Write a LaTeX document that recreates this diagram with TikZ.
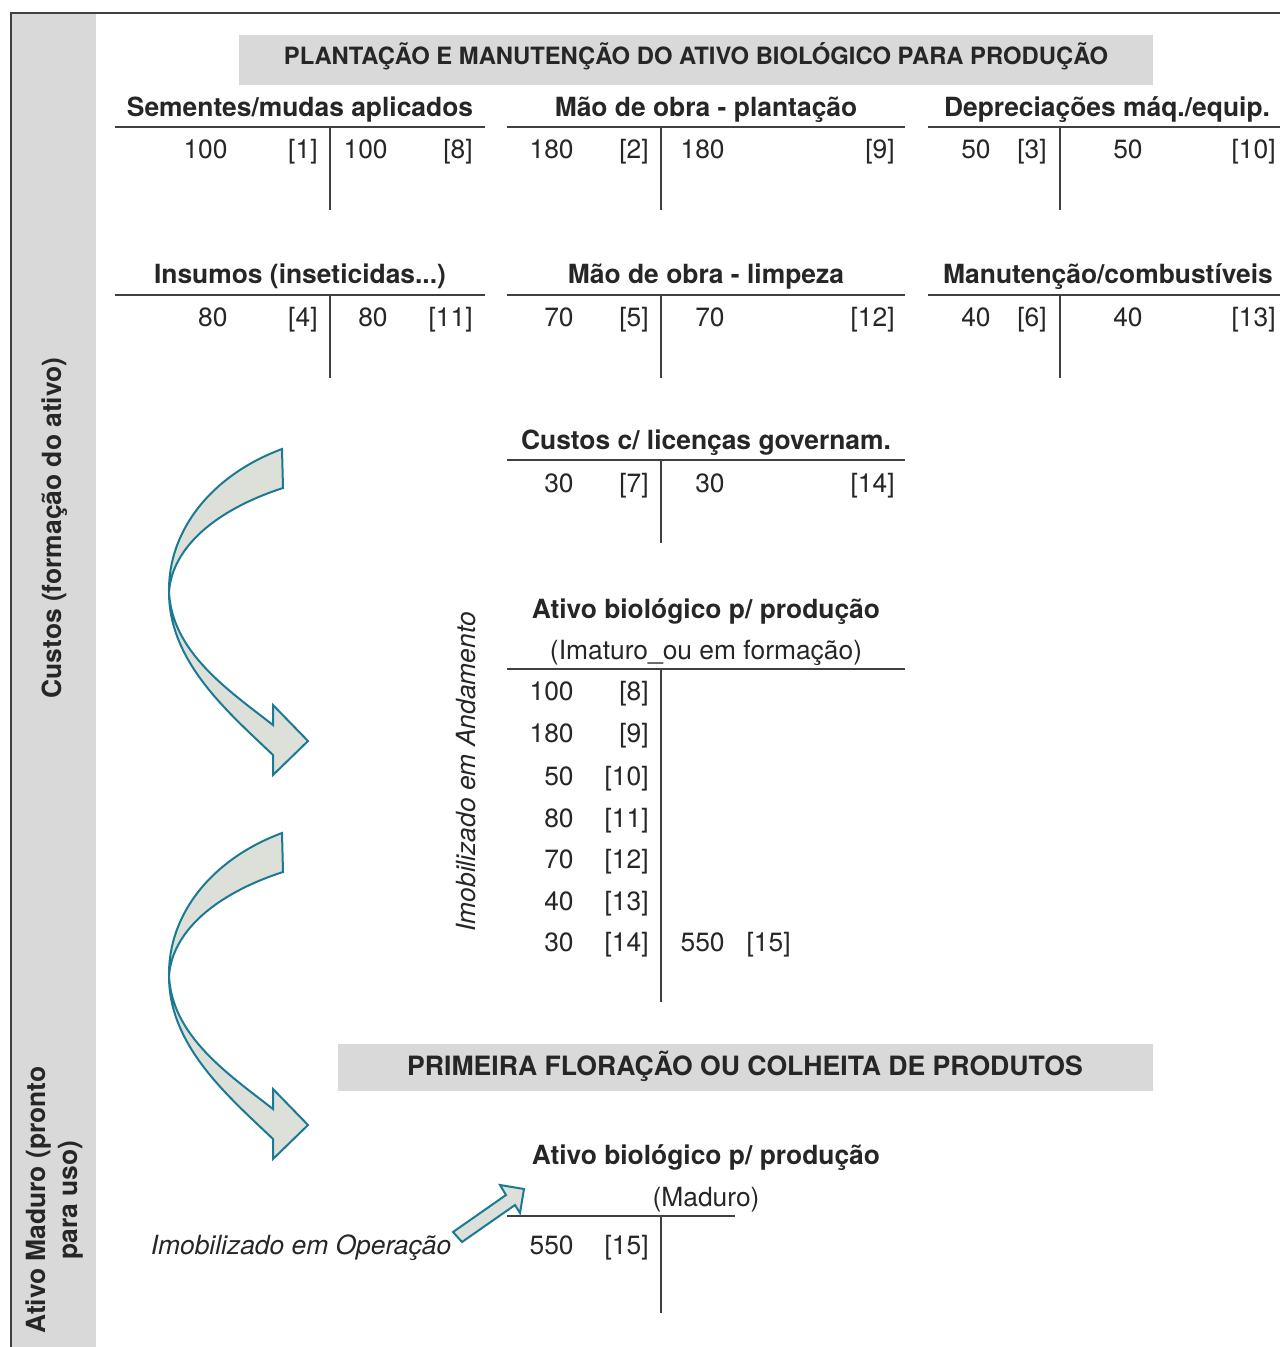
\documentclass[tikz,border=0pt]{standalone}
\usepackage{fontspec}
\setmainfont{TeX Gyre Heros}
\usepackage{xcolor}
\definecolor{ink}{HTML}{262626}
\definecolor{rule}{HTML}{404040}
\definecolor{bargray}{HTML}{D9D9D9}
\definecolor{arrowfill}{HTML}{DDDFD9}
\definecolor{arrowline}{HTML}{1A7A94}

\begin{document}
\begin{tikzpicture}[x=0.5pt,y=-0.5pt,
        hd/.style={anchor=base,inner sep=0pt,text=ink,font=\fontsize{13.2}{16}\selectfont\bfseries},
        sub/.style={anchor=base,inner sep=0pt,text=ink,font=\fontsize{13.2}{16}\selectfont},
        num/.style={anchor=base east,inner sep=0pt,text=ink,font=\fontsize{13.2}{16}\selectfont},
        ttl/.style={anchor=base,inner sep=0pt,text=ink,font=\fontsize{11.9}{14}\selectfont\bfseries},
        tline/.style={draw=rule,line width=0.75pt},
        bigarrow/.style={fill=arrowfill,draw=arrowline,line width=1pt,line join=miter}]
        \useasboundingbox (0,0) rectangle (1280,1347);
        % left band and frame
        \fill[bargray] (11,13) rectangle (96,1347);
        \draw[rule,line width=1pt] (1280,13) -- (11,13) -- (11,1347);
        \node(custos)[hd,anchor=center,rotate=90] at (55,528) {Custos (formação do ativo)};
        \node(maduro)[hd,anchor=center,rotate=90,align=center] at (55,1200) {Ativo Maduro (pronto\\para uso)};

        % title bars
        \fill[bargray] (239,35) rectangle (1153,85);
        \node(plant)[ttl] at (696,64.5) {PLANTAÇÃO E MANUTENÇÃO DO ATIVO BIOLÓGICO PARA PRODUÇÃO};
        \fill[bargray] (338,1044) rectangle (1153,1091);
        \node(florac)[ttl,font=\fontsize{13.3}{16}\selectfont\bfseries] at (745,1075) {PRIMEIRA FLORAÇÃO OU COLHEITA DE PRODUTOS};

        % first row of accounts
        \node(sem)[hd] at (300,117) {Sementes/mudas aplicados};
        \draw[tline] (115,127) -- (485,127) (330,127) -- (330,210);
        \node(sem1)[num] at (228,159) {100};
        \node(semr1)[num] at (318,159) {[1]};
        \node(sem2)[num] at (388,159) {100};
        \node(semr8)[num] at (473,159) {[8]};

        \node(mop)[hd] at (706,117) {Mão de obra - plantação};
        \draw[tline] (507,127) -- (905,127) (661,127) -- (661,210);
        \node(mop1)[num] at (574,159) {180};
        \node(mopr2)[num] at (649,159) {[2]};
        \node(mop2)[num] at (725,159) {180};
        \node(mopr9)[num] at (895,159) {[9]};

        \node(dep)[hd] at (1107,117) {Depreciações máq./equip.};
        \draw[tline] (928,127) -- (1280,127) (1060,127) -- (1060,210);
        \node(dep1)[num] at (991,159) {50};
        \node(depr3)[num] at (1047,159) {[3]};
        \node(dep2)[num] at (1143,159) {50};
        \node(depr10)[num] at (1276,159) {[10]};

        % second row of accounts
        \node(ins)[hd] at (300,284) {Insumos (inseticidas...)};
        \draw[tline] (115,295) -- (485,295) (330,295) -- (330,378);
        \node(ins1)[num] at (228,327) {80};
        \node(insr4)[num] at (318,327) {[4]};
        \node(ins2)[num] at (388,327) {80};
        \node(insr11)[num] at (473,327) {[11]};

        \node(mol)[hd] at (706,284) {Mão de obra - limpeza};
        \draw[tline] (507,295) -- (905,295) (661,295) -- (661,378);
        \node(mol1)[num] at (574,327) {70};
        \node(molr5)[num] at (649,327) {[5]};
        \node(mol2)[num] at (725,327) {70};
        \node(molr12)[num] at (895,327) {[12]};

        \node(man)[hd] at (1108,284) {Manutenção/combustíveis};
        \draw[tline] (928,295) -- (1280,295) (1060,295) -- (1060,378);
        \node(man1)[num] at (991,327) {40};
        \node(manr6)[num] at (1047,327) {[6]};
        \node(man2)[num] at (1143,327) {40};
        \node(manr13)[num] at (1276,327) {[13]};

        % third row
        \node(lic)[hd] at (706,450) {Custos c/ licenças governam.};
        \draw[tline] (507,460) -- (905,460) (661,460) -- (661,543);
        \node(lic1)[num] at (574,492) {30};
        \node(licr7)[num] at (649,492) {[7]};
        \node(lic2)[num] at (725,492) {30};
        \node(licr14)[num] at (895,492) {[14]};

        % ativo imaturo
        \node(andam)[sub,anchor=center,rotate=90,font=\fontsize{13.2}{16}\selectfont\itshape] at (466,772) {Imobilizado em Andamento};
        \node(imat)[hd] at (706,618) {Ativo biológico p/ produção};
        \node(imatsub)[sub] at (706,659) {(Imaturo\_ou em formação)};
        \draw[tline] (507,669) -- (905,669) (661,669) -- (661,1002);
        \node(im1)[num] at (574,700) {100};  \node(imr8)[num] at (649,700) {[8]};
        \node(im2)[num] at (574,742) {180};  \node(imr9)[num] at (649,742) {[9]};
        \node(im3)[num] at (574,785) {50};   \node(imr10)[num] at (649,785) {[10]};
        \node(im4)[num] at (574,827) {80};   \node(imr11)[num] at (649,827) {[11]};
        \node(im5)[num] at (574,868) {70};   \node(imr12)[num] at (649,868) {[12]};
        \node(im6)[num] at (574,910) {40};   \node(imr13)[num] at (649,910) {[13]};
        \node(im7)[num] at (574,951) {30};   \node(imr14)[num] at (649,951) {[14]};
        \node(imc)[num] at (725,951) {550};  \node(imcr15)[num] at (791,951) {[15]};

        % ativo maduro
        \node(mad)[hd] at (706,1164) {Ativo biológico p/ produção};
        \node(madsub)[sub] at (706,1206) {(Maduro)};
        \draw[tline] (507,1216) -- (735,1216) (661,1216) -- (661,1313);
        \node(mad1)[num] at (574,1254) {550};
        \node(madr15)[num] at (649,1254) {[15]};
        \node(oper)[sub,font=\fontsize{13.2}{16}\selectfont\itshape] at (301,1254) {Imobilizado em Operação};

        % curved arrows
        \foreach \dy in {0,384}{
        \draw[bigarrow,shift={(0,\dy)}] (282,449) .. controls (212,475) and (168,530) .. (169,592)
                .. controls (169,662) and (228,712) .. (273,755) -- (273,775) -- (308,741) -- (273,705) -- (273,725)
                .. controls (228,690) and (172,652) .. (169,592)
                .. controls (172,548) and (215,510) .. (283,488) -- cycle;
        }
        % small arrow
        \draw[bigarrow] (453,1232) -- (506,1195) -- (500,1185) -- (524,1189) -- (520,1213) -- (515,1205) -- (462,1242) -- cycle;
\end{tikzpicture}
\end{document}
